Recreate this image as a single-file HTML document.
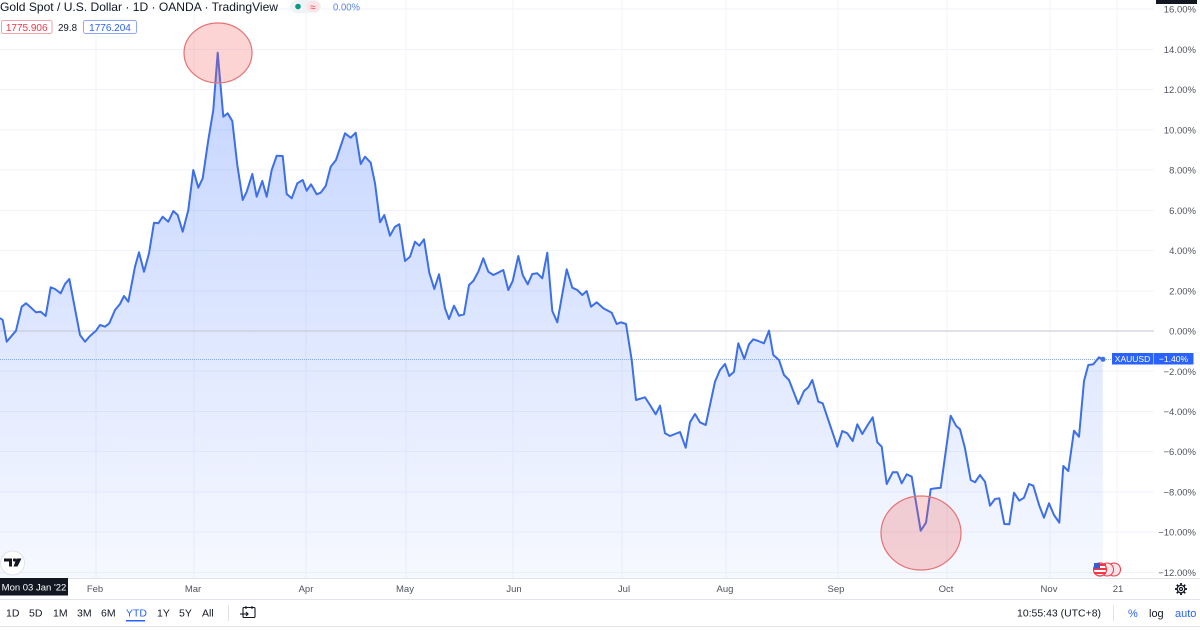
<!DOCTYPE html>
<html>
<head>
<meta charset="utf-8">
<style>
html,body{margin:0;padding:0;background:#fff;}
body{width:1200px;height:628px;overflow:hidden;font-family:"Liberation Sans",sans-serif;}
svg text{font-family:"Liberation Sans",sans-serif;}
</style>
</head>
<body>
<svg width="1200" height="628" viewBox="0 0 1200 628" xmlns="http://www.w3.org/2000/svg">
<defs>
<linearGradient id="fillg" x1="0" y1="50" x2="0" y2="578" gradientUnits="userSpaceOnUse">
<stop offset="0" stop-color="#2962ff" stop-opacity="0.28"/>
<stop offset="1" stop-color="#2962ff" stop-opacity="0.04"/>
</linearGradient>
</defs>
<rect width="1200" height="628" fill="#fff"/>

<!-- horizontal grid -->
<g stroke="#f0f3fa" stroke-width="1">
<line x1="0" y1="9" x2="1154" y2="9"/>
<line x1="0" y1="49.5" x2="1154" y2="49.5"/>
<line x1="0" y1="89.5" x2="1154" y2="89.5"/>
<line x1="0" y1="130" x2="1154" y2="130"/>
<line x1="0" y1="170" x2="1154" y2="170"/>
<line x1="0" y1="210.5" x2="1154" y2="210.5"/>
<line x1="0" y1="250.5" x2="1154" y2="250.5"/>
<line x1="0" y1="291" x2="1154" y2="291"/>
<line x1="0" y1="371" x2="1154" y2="371"/>
<line x1="0" y1="411.5" x2="1154" y2="411.5"/>
<line x1="0" y1="451.5" x2="1154" y2="451.5"/>
<line x1="0" y1="492" x2="1154" y2="492"/>
<line x1="0" y1="532" x2="1154" y2="532"/>
<line x1="0" y1="572.5" x2="1154" y2="572.5"/>
</g>
<!-- vertical grid -->
<g stroke="#f0f3fa" stroke-width="1">
<line x1="96" y1="0" x2="96" y2="578"/>
<line x1="194" y1="0" x2="194" y2="578"/>
<line x1="306" y1="0" x2="306" y2="578"/>
<line x1="406" y1="0" x2="406" y2="578"/>
<line x1="513" y1="0" x2="513" y2="578"/>
<line x1="622" y1="0" x2="622" y2="578"/>
<line x1="726" y1="0" x2="726" y2="578"/>
<line x1="838" y1="0" x2="838" y2="578"/>
<line x1="947" y1="0" x2="947" y2="578"/>
<line x1="1050" y1="0" x2="1050" y2="578"/>
<line x1="1117" y1="0" x2="1117" y2="578"/>
</g>

<!-- area fill -->
<path fill="url(#fillg)" d="M0,318 L2.7,320 6.7,341.7 16,330.7 21.7,306.7 26,303.3 31.7,308.3 36,312.3 40.7,311.7 45.7,316 50.7,287.3 55,289 60.7,293.3 65,284 69.3,279 80,335 85,341.7 90,336 96,330.7 100,325 105,326.7 109.3,323.3 115,310 120,304 124,296 128.3,301.7 135,266.7 139,252.3 144,271.7 149,253.3 154,222.7 158.3,223.3 162.7,216.7 168.3,221.7 173.3,211 177.7,215 182.7,231.7 188.3,210 193.3,170 198.3,187.7 202.7,178.3 208.3,140 213.3,110 217.7,52.7 223.3,116.7 227.7,113.3 232.3,121 237.3,165 242.7,200 246.7,191.7 252.3,174 256.7,196.7 262.3,181 266.7,196.7 271.7,170 276.7,155.7 282.7,156 286.7,194 291.7,198.3 297.3,183.3 302.7,180 306.7,190.7 311,184.3 316.7,194.3 320.7,192.7 325.7,186 330.7,166.7 336,160 345,133.3 350.7,137.7 355.7,132.7 360.7,164 365,156.7 370.7,162.7 375,183.3 380,222.3 384.3,215 390,235.7 395,226.7 399.3,224.3 405,261 410,256.7 415,241.7 419.3,245.7 424,239.3 429.3,272.7 434.3,289 439,274.3 445,308.3 449,319 454,305.7 459,315.7 464,314.3 469,285 473.3,281 478.3,271.7 483.3,258.3 488.3,271.7 493.3,275 499,272.3 503.3,270 508.3,290 512.7,281 518.3,256 522.7,275 527.7,284.3 532.3,274 537.3,273.3 542.3,278.3 547.3,252.7 552.3,311 557.3,322.3 566.7,269.3 572.3,287.7 577.3,290 582.3,295 586.7,291 591,306.7 596.7,302.3 603.3,308.3 611.7,312.7 616.7,324 621,322.3 626,324 631.7,360 636,400 645,397.3 650,405 655.7,414.3 660,405.7 665,433.3 670,436 680,432 685.7,447.7 690,422.3 695,414 700,422.3 705.7,425 710,405 715,381.7 720,370 725,364 729.3,376 734,371.7 738.3,343.3 744.3,359 749,344.3 753.3,339.3 758.3,341 764,343.3 769,330.7 773.3,355 779,360 784,375 789,380 798.3,404 804,391 808.3,387.3 812.3,380 818.3,401.7 822.7,403.3 830,425 837.3,446.7 842.3,431 847.3,433.3 852.7,441 857.3,424.3 862.3,434 867.7,425 872.7,417.3 877.3,442.3 881.7,446.7 886.7,484 892.7,472.3 897.3,472.3 901.7,483.3 906.7,474.3 911.7,476.7 920.7,530.7 926,522.7 930.7,489 936,488.3 940.7,487.7 950.7,415.7 956,425.7 960,429.3 965,448.3 970.7,480 975,482.3 980,475 985,481.7 990,505.7 995,499 999.3,498.3 1004.3,524 1009.3,524.3 1014,492.7 1019.3,500.7 1024,497.7 1029,484 1033.3,485.7 1039.3,505.7 1044,517.7 1049,503.3 1054,515 1059.3,522.7 1063.3,466 1068.3,471 1074,430.7 1079,436.7 1084,381 1088.3,365 1093.3,364.3 1099,357.3 1102.7,359.3 L1103,578 L0,578 Z"/>

<!-- zero baseline -->
<line x1="0" y1="331" x2="1154" y2="331" stroke="#c3c6cf" stroke-width="1"/>
<!-- last price dotted line -->
<line x1="0" y1="359.5" x2="1112" y2="359.5" stroke="#8fa9f5" stroke-width="1" stroke-dasharray="1,1"/>

<!-- line -->
<polyline fill="none" stroke="#3d6fe8" stroke-width="2" stroke-linejoin="round" points="0,318 2.7,320 6.7,341.7 16,330.7 21.7,306.7 26,303.3 31.7,308.3 36,312.3 40.7,311.7 45.7,316 50.7,287.3 55,289 60.7,293.3 65,284 69.3,279 80,335 85,341.7 90,336 96,330.7 100,325 105,326.7 109.3,323.3 115,310 120,304 124,296 128.3,301.7 135,266.7 139,252.3 144,271.7 149,253.3 154,222.7 158.3,223.3 162.7,216.7 168.3,221.7 173.3,211 177.7,215 182.7,231.7 188.3,210 193.3,170 198.3,187.7 202.7,178.3 208.3,140 213.3,110 217.7,52.7 223.3,116.7 227.7,113.3 232.3,121 237.3,165 242.7,200 246.7,191.7 252.3,174 256.7,196.7 262.3,181 266.7,196.7 271.7,170 276.7,155.7 282.7,156 286.7,194 291.7,198.3 297.3,183.3 302.7,180 306.7,190.7 311,184.3 316.7,194.3 320.7,192.7 325.7,186 330.7,166.7 336,160 345,133.3 350.7,137.7 355.7,132.7 360.7,164 365,156.7 370.7,162.7 375,183.3 380,222.3 384.3,215 390,235.7 395,226.7 399.3,224.3 405,261 410,256.7 415,241.7 419.3,245.7 424,239.3 429.3,272.7 434.3,289 439,274.3 445,308.3 449,319 454,305.7 459,315.7 464,314.3 469,285 473.3,281 478.3,271.7 483.3,258.3 488.3,271.7 493.3,275 499,272.3 503.3,270 508.3,290 512.7,281 518.3,256 522.7,275 527.7,284.3 532.3,274 537.3,273.3 542.3,278.3 547.3,252.7 552.3,311 557.3,322.3 566.7,269.3 572.3,287.7 577.3,290 582.3,295 586.7,291 591,306.7 596.7,302.3 603.3,308.3 611.7,312.7 616.7,324 621,322.3 626,324 631.7,360 636,400 645,397.3 650,405 655.7,414.3 660,405.7 665,433.3 670,436 680,432 685.7,447.7 690,422.3 695,414 700,422.3 705.7,425 710,405 715,381.7 720,370 725,364 729.3,376 734,371.7 738.3,343.3 744.3,359 749,344.3 753.3,339.3 758.3,341 764,343.3 769,330.7 773.3,355 779,360 784,375 789,380 798.3,404 804,391 808.3,387.3 812.3,380 818.3,401.7 822.7,403.3 830,425 837.3,446.7 842.3,431 847.3,433.3 852.7,441 857.3,424.3 862.3,434 867.7,425 872.7,417.3 877.3,442.3 881.7,446.7 886.7,484 892.7,472.3 897.3,472.3 901.7,483.3 906.7,474.3 911.7,476.7 920.7,530.7 926,522.7 930.7,489 936,488.3 940.7,487.7 950.7,415.7 956,425.7 960,429.3 965,448.3 970.7,480 975,482.3 980,475 985,481.7 990,505.7 995,499 999.3,498.3 1004.3,524 1009.3,524.3 1014,492.7 1019.3,500.7 1024,497.7 1029,484 1033.3,485.7 1039.3,505.7 1044,517.7 1049,503.3 1054,515 1059.3,522.7 1063.3,466 1068.3,471 1074,430.7 1079,436.7 1084,381 1088.3,365 1093.3,364.3 1099,357.3 1102.7,359.3"/>
<circle cx="1103" cy="359.3" r="2.5" fill="#3d6fe8"/>

<!-- highlight circles -->
<ellipse cx="218" cy="53" rx="34" ry="30" fill="#ef5350" fill-opacity="0.25" stroke="#e57373" stroke-width="1.2"/>
<ellipse cx="921" cy="533" rx="40" ry="37" fill="#ef5350" fill-opacity="0.25" stroke="#e57373" stroke-width="1.2"/>

<!-- header -->
<text x="0" y="11" font-size="12" fill="#131722" textLength="278" lengthAdjust="spacingAndGlyphs">Gold Spot / U.S. Dollar · 1D · OANDA · TradingView</text>
<rect x="290" y="0" width="31" height="13" rx="6.5" fill="#f0f3f5"/>
<rect x="306" y="1" width="14" height="11" rx="5.5" fill="#fde4e8"/>
<circle cx="298" cy="6.5" r="2.8" fill="#089981"/>
<text x="313" y="10.5" font-size="10" fill="#f23645" text-anchor="middle">≈</text>
<text x="333" y="10.5" font-size="10" fill="#5b84f0" textLength="27" lengthAdjust="spacingAndGlyphs">0.00%</text>

<rect x="1.5" y="20.5" width="50.5" height="13" rx="2" fill="#fff" stroke="#f7a1a8" stroke-width="1"/>
<text x="26.7" y="31" font-size="10" fill="#f23645" text-anchor="middle">1775.906</text>
<text x="58" y="31" font-size="10" fill="#131722" textLength="19" lengthAdjust="spacingAndGlyphs">29.8</text>
<rect x="83.5" y="20.5" width="53" height="13" rx="2" fill="#fff" stroke="#8fa9f5" stroke-width="1"/>
<text x="110" y="31" font-size="10" fill="#2962ff" text-anchor="middle">1776.204</text>

<!-- right price scale -->
<rect x="1156" y="0" width="41" height="4" fill="#131722"/>
<g font-size="9.5" fill="#50535e" text-anchor="end">
<text x="1196" y="12.5">16.00%</text>
<text x="1196" y="53">14.00%</text>
<text x="1196" y="93">12.00%</text>
<text x="1196" y="133.5">10.00%</text>
<text x="1196" y="173.5">8.00%</text>
<text x="1196" y="214">6.00%</text>
<text x="1196" y="254">4.00%</text>
<text x="1196" y="294.5">2.00%</text>
<text x="1196" y="334.5">0.00%</text>
<text x="1196" y="375">−2.00%</text>
<text x="1196" y="415">−4.00%</text>
<text x="1196" y="455">−6.00%</text>
<text x="1196" y="495.5">−8.00%</text>
<text x="1196" y="535.5">−10.00%</text>
<text x="1196" y="576">−12.00%</text>
</g>
<!-- XAUUSD label -->
<rect x="1112" y="353" width="41" height="11.5" fill="#2962ff"/>
<rect x="1153.5" y="353" width="40" height="11.5" fill="#2962ff"/>
<text x="1132.5" y="362" font-size="8.5" fill="#fff" text-anchor="middle">XAUUSD</text>
<text x="1173.5" y="362" font-size="8.5" fill="#fff" text-anchor="middle">−1.40%</text>

<!-- TV logo -->
<circle cx="12.5" cy="563" r="12" fill="#fff" stroke="#e0e3eb" stroke-width="1"/>
<path d="M4,558.5 h8 v8 h-3 v-5 h-5 z" fill="#131722"/>
<circle cx="14.5" cy="560" r="1.6" fill="#131722"/>
<path d="M16.5,558.5 h5 l-4,8 h-4 z" fill="#131722"/>

<!-- flag/events -->
<circle cx="1114" cy="569.5" r="6.5" fill="#fde4e8" stroke="#f23645" stroke-width="1"/>
<circle cx="1107" cy="569.5" r="6.5" fill="#fde4e8" stroke="#f23645" stroke-width="1"/>
<circle cx="1100" cy="569.5" r="6.5" fill="#fff" stroke="#f23645" stroke-width="1.2"/>
<g>
<rect x="1094" y="564" width="12" height="2" fill="#f23645"/>
<rect x="1094" y="568" width="12" height="2" fill="#f23645"/>
<rect x="1094" y="572" width="12" height="2" fill="#f23645"/>
<rect x="1094" y="563" width="6" height="5.5" fill="#3a5ccc"/>
</g>

<!-- time axis -->
<line x1="0" y1="578.5" x2="1200" y2="578.5" stroke="#e0e3eb" stroke-width="1"/>
<rect x="0" y="578" width="68" height="17.5" fill="#131722"/>
<text x="34" y="590.5" font-size="9.5" fill="#fff" text-anchor="middle">Mon 03 Jan '22</text>
<g font-size="9.5" fill="#50535e" text-anchor="middle">
<text x="95" y="592">Feb</text>
<text x="193" y="592">Mar</text>
<text x="306" y="592">Apr</text>
<text x="405" y="592">May</text>
<text x="514" y="592">Jun</text>
<text x="624" y="592">Jul</text>
<text x="725" y="592">Aug</text>
<text x="836" y="592">Sep</text>
<text x="946" y="592">Oct</text>
<text x="1049" y="592">Nov</text>
<text x="1118" y="592">21</text>
</g>
<!-- gear -->
<g transform="translate(1181,589)" fill="none" stroke="#131722" stroke-width="1.2">
<circle r="3.8"/>
<circle r="1.5"/>
<g stroke-width="1.8">
<line x1="0" y1="-4" x2="0" y2="-6"/><line x1="0" y1="4" x2="0" y2="6"/>
<line x1="-4" y1="0" x2="-6" y2="0"/><line x1="4" y1="0" x2="6" y2="0"/>
<line x1="2.8" y1="2.8" x2="4.2" y2="4.2"/><line x1="-2.8" y1="-2.8" x2="-4.2" y2="-4.2"/>
<line x1="2.8" y1="-2.8" x2="4.2" y2="-4.2"/><line x1="-2.8" y1="2.8" x2="-4.2" y2="4.2"/>
</g>
</g>

<!-- toolbar -->
<line x1="0" y1="599.5" x2="1200" y2="599.5" stroke="#e0e3eb" stroke-width="1"/>
<line x1="0" y1="626.5" x2="1200" y2="626.5" stroke="#e0e3eb" stroke-width="1"/>
<g font-size="10.5" fill="#131722">
<text x="6" y="616.5">1D</text>
<text x="29" y="616.5">5D</text>
<text x="53" y="616.5">1M</text>
<text x="77" y="616.5">3M</text>
<text x="101" y="616.5">6M</text>
<text x="126" y="616.5" fill="#2962ff">YTD</text>
<text x="157" y="616.5">1Y</text>
<text x="179" y="616.5">5Y</text>
<text x="202" y="616.5">All</text>
</g>
<rect x="126" y="620" width="19" height="1.5" fill="#2962ff"/>
<line x1="228.5" y1="605" x2="228.5" y2="621" stroke="#e0e3eb" stroke-width="1"/>
<g fill="none" stroke="#131722" stroke-width="1.1">
<rect x="243" y="607.5" width="12" height="10" rx="1"/>
<line x1="246" y1="606" x2="246" y2="609"/>
<line x1="252" y1="606" x2="252" y2="609"/>
<line x1="240" y1="614" x2="248" y2="614"/>
<path d="M246,612 l2,2 l-2,2"/>
</g>
<text x="1017" y="616.5" font-size="10.5" fill="#131722" textLength="84" lengthAdjust="spacingAndGlyphs">10:55:43 (UTC+8)</text>
<line x1="1113.5" y1="605" x2="1113.5" y2="621" stroke="#e0e3eb" stroke-width="1"/>
<text x="1128" y="617" font-size="11" fill="#2962ff">%</text>
<text x="1149" y="617" font-size="11" fill="#131722">log</text>
<text x="1175" y="617" font-size="11" fill="#2962ff">auto</text>
</svg>
</body>
</html>
